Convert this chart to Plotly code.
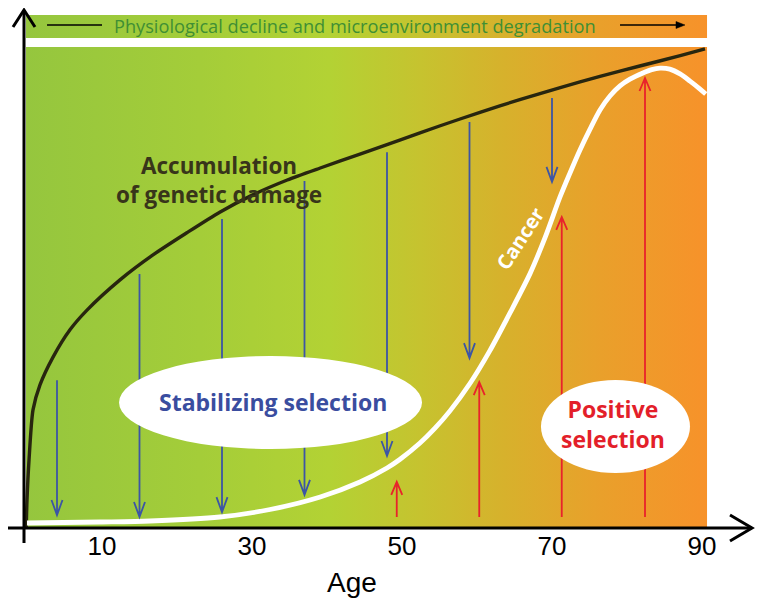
import plotly.graph_objects as go

# ---------------- data ----------------
damage_age = [-0.1, 0.0, 0.27, 0.8, 1.73, 3.47, 5.73, 8.0, 12.4, 16.8, 21.3, 25.7, 30.1,
              34.7, 39.1, 44.4, 49.7, 55.1, 60.4, 65.7, 71.1, 76.4, 81.7, 87.1, 90.4]
damage_level = [0.2, 5.8, 14.2, 24.6, 29.8, 35.6, 41.3, 45.4, 51.7, 56.9, 61.5, 65.8, 69.4,
                72.5, 75.0, 77.9, 80.8, 83.8, 86.6, 89.25, 91.75, 94.1, 96.25, 98.4, 99.8]

cancer_age = [0, 9.73, 16.4, 25.7, 32.4, 39.1, 44.4, 48.0, 49.7, 52.4, 54.4, 56.4, 59.1,
              61.7, 64.4, 67.1, 69.1, 71.07, 72.4, 73.73, 75.07, 76.4, 77.73, 79.07, 80.4,
              82.13, 83.3, 84.4, 85.7, 87.07, 88.4, 89.7, 90.5]
cancer_level = [1.04, 1.25, 1.46, 2.29, 3.85, 6.46, 9.58, 12.5, 14.27, 17.7, 20.8, 24.4, 30.2,
                36.9, 44.8, 53.1, 60.6, 68.96, 73.96, 78.75, 83.1, 87.1, 90.0, 92.1, 93.5,
                94.8, 95.5, 95.8, 95.6, 94.6, 93.1, 91.5, 90.4]

stab_age = [4, 15, 26, 37, 48, 59, 70]
stab_top = [30.8, 52.9, 64.4, 72.3, 78.3, 84.6, 89.6]
stab_tip = [2.7, 2.3, 3.3, 6.9, 15.0, 35.4, 72.1]

pos_age = [49.3, 60.3, 71.3, 82.4]
pos_base = [2.3, 2.3, 2.3, 2.3]
pos_tip = [9.6, 30.4, 64.8, 93.75]

tick_vals = [10, 30, 50, 70, 90]
tick_text = ["10", "30", "50", "70", "90"]

# ---------------- layout constants ----------------
W, H = 763, 607
OFF = 8            # page body margin in the browser
X0PX = 27 - OFF    # pixel of age 0 inside the figure
Y0PX = 528 - OFF   # pixel of level 0 inside the figure
PXA = 7.5          # px per year
PXL = 4.8          # px per level unit
X_RANGE = [-X0PX / PXA, (W - X0PX) / PXA]
Y_RANGE = [(Y0PX - H) / PXL, Y0PX / PXL]
PANEL_X0, PANEL_X1 = -0.13, 90.67
PANEL_TOP = 100.2
BAN_Y0, BAN_Y1 = 102.08, 106.875


def dx(px):
    return px / PXA


def dy(px):
    return px / PXL


grad = dict(type="horizontal", colorscale=[
    [0.0, "#95c63e"], [0.255, "#a4cd39"], [0.446, "#b3d234"], [0.579, "#c6c32f"],
    [0.696, "#d6b22c"], [0.843, "#e9a02b"], [1.0, "#f7922a"]])

fig = go.Figure()
for y0, y1 in [(0, PANEL_TOP), (BAN_Y0, BAN_Y1)]:
    fig.add_trace(go.Scatter(
        x=[PANEL_X0, PANEL_X1, PANEL_X1, PANEL_X0, PANEL_X0],
        y=[y0, y0, y1, y1, y0], mode="lines", fill="toself", fillgradient=grad,
        line=dict(width=0), hoverinfo="skip", showlegend=False))

fig.add_trace(go.Scatter(x=damage_age, y=damage_level, mode="lines",
                         line=dict(color="#28260f", width=3.4, shape="spline", smoothing=0.7),
                         hoverinfo="skip", showlegend=False))
fig.add_trace(go.Scatter(x=cancer_age, y=cancer_level, mode="lines",
                         line=dict(color="white", width=4.8, shape="spline", smoothing=0.8),
                         hoverinfo="skip", showlegend=False))

shapes = []
BLUE = "#3c55a5"
RED = "#e8232b"
hw, hl = dx(5.5), dy(15)
for a, t, p in zip(stab_age, stab_top, stab_tip):
    path = f"M{a},{t} L{a},{p} M{a-hw},{p+hl} L{a},{p} L{a+hw},{p+hl}"
    shapes.append(dict(type="path", path=path, xref="x", yref="y",
                       line=dict(color=BLUE, width=1.8), layer="above"))
hw2, hl2 = dx(5.5), dy(13)
for a, b, p in zip(pos_age, pos_base, pos_tip):
    path = f"M{a},{b} L{a},{p} M{a-hw2},{p-hl2} L{a},{p} L{a+hw2},{p-hl2}"
    shapes.append(dict(type="path", path=path, xref="x", yref="y",
                       line=dict(color=RED, width=1.8), layer="above"))

# ellipses (drawn after arrows so they cover them)
shapes.append(dict(type="circle", xref="x", yref="y", x0=12.27, x1=52.67, y0=16.46, y1=35.83,
                   fillcolor="white", line=dict(width=0), layer="above"))
shapes.append(dict(type="circle", xref="x", yref="y", x0=68.53, x1=88.4, y0=11.46, y1=30.83,
                   fillcolor="white", line=dict(width=0), layer="above"))

# axes with arrow heads
yx = -0.4
ytip = dy(528 - 10)
shapes.append(dict(type="path", xref="x", yref="y",
                   path=f"M{yx},{-3.1} L{yx},{ytip}",
                   line=dict(color="black", width=3), layer="above"))
shapes.append(dict(type="path", xref="x", yref="y",
                   path=f"M{yx-dx(11)},{ytip-dy(17)} L{yx},{ytip} L{yx+dx(11)},{ytip-dy(17)}",
                   line=dict(color="black", width=3), layer="above"))
xtip = (752 - 27) / PXA
shapes.append(dict(type="path", xref="x", yref="y",
                   path=f"M{(8-27)/PXA},0 L{xtip},0",
                   line=dict(color="black", width=3), layer="above"))
shapes.append(dict(type="path", xref="x", yref="y",
                   path=f"M{xtip-dx(22)},{dy(13)} L{xtip},0 L{xtip-dx(22)},{-dy(13)}",
                   line=dict(color="black", width=3), layer="above"))

# banner decorations
bl = 104.79
shapes.append(dict(type="line", xref="x", yref="y", x0=2.67, x1=10.0, y0=bl, y1=bl,
                   line=dict(color="black", width=1.3), layer="above"))
shapes.append(dict(type="line", xref="x", yref="y", x0=79.07, x1=86.9, y0=bl, y1=bl,
                   line=dict(color="black", width=1.3), layer="above"))
shapes.append(dict(type="path", xref="x", yref="y",
                   path=f"M87.73,{bl} L{87.73-dx(9)},{bl+dy(3.5)} L{87.73-dx(9)},{bl-dy(3.5)} Z",
                   fillcolor="black", line=dict(color="black", width=0.5), layer="above"))

annotations = [
    dict(x=43.7, y=104.5, text="Physiological decline and microenvironment degradation",
         font=dict(family="Open Sans", size=18.2, color="#3f8f34")),
    dict(x=25.6, y=72.5, text="<b>Accumulation<br>of genetic damage</b>",
         font=dict(family="Open Sans", size=22.5, color="#38351a")),
    dict(x=32.8, y=26.2, text="<b>Stabilizing selection</b>",
         font=dict(family="Open Sans", size=23, color="#3a4d9f")),
    dict(x=78.1, y=21.7, text="<b>Positive<br>selection</b>",
         font=dict(family="Open Sans", size=23, color="#e31f2a")),
    dict(x=65.7, y=60.4, text="<b>Cancer</b>", textangle=-57,
         font=dict(family="Open Sans", size=20, color="white")),
    dict(x=43.3, y=-11.3, text="Age",
         font=dict(family="Liberation Sans", size=28, color="black")),
]
for a in annotations:
    a.update(xref="x", yref="y", showarrow=False)

fig.update_layout(
    width=W, height=H, margin=dict(l=0, r=0, t=0, b=0),
    paper_bgcolor="white", plot_bgcolor="white",
    shapes=shapes, annotations=annotations, showlegend=False,
    xaxis=dict(range=X_RANGE, showgrid=False, zeroline=False, showline=False,
               anchor="free", position=(H - Y0PX) / H,
               tickmode="array", tickvals=tick_vals, ticktext=tick_text,
               ticks="",
               tickfont=dict(family="Liberation Sans", size=26, color="black"),
               fixedrange=True),
    yaxis=dict(range=Y_RANGE, visible=False, fixedrange=True),
)

fig.write_html("out.html")
